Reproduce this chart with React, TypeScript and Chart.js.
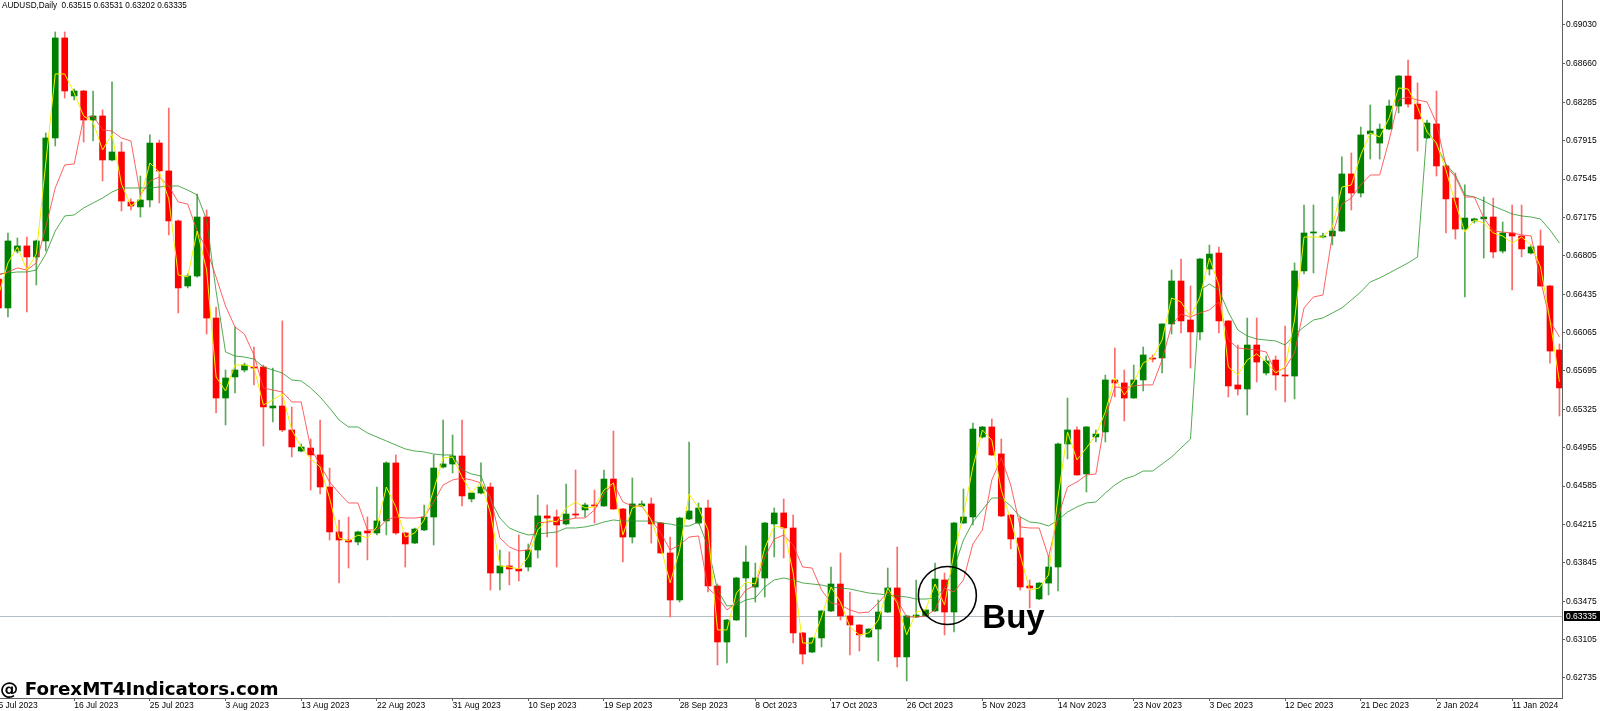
import React, { useEffect, useRef } from 'react';
import { Chart, registerables } from 'chart.js';

Chart.register(...registerables);

// ---- Data (AUDUSD, Daily) ----
const openP = [
  0.66581, 0.66302, 0.66851, 0.66900, 0.66794, 0.66948, 0.67941, 0.68905, 0.68346, 0.68394,
  0.68114, 0.68153, 0.67729, 0.67806, 0.67324, 0.67276, 0.67343, 0.67892, 0.67623, 0.67141,
  0.66514, 0.66610, 0.67179, 0.66205, 0.65434, 0.65637, 0.65704, 0.65733, 0.65733, 0.65338,
  0.65357, 0.65126, 0.64923, 0.64952, 0.64885, 0.64576, 0.64143, 0.64065, 0.64046, 0.64152,
  0.64133, 0.64249, 0.64808, 0.64133, 0.64036, 0.64162, 0.64287, 0.64769, 0.64798, 0.64875,
  0.64461, 0.64518, 0.64576, 0.63747, 0.63815, 0.63786, 0.63805, 0.63969, 0.64297, 0.64287,
  0.64220, 0.64316, 0.64355, 0.64403, 0.64393, 0.64653, 0.64364, 0.64094, 0.64393, 0.64413,
  0.64229, 0.63940, 0.63487, 0.64268, 0.64229, 0.64374, 0.63622, 0.63082, 0.63294, 0.63699,
  0.63612, 0.63699, 0.64220, 0.64326, 0.64181, 0.63169, 0.62985, 0.63121, 0.63381, 0.63641,
  0.63333, 0.63246, 0.63130, 0.63207, 0.63371, 0.63603, 0.62938, 0.63323, 0.63333, 0.63381,
  0.63680, 0.63371, 0.64229, 0.64287, 0.65058, 0.65155, 0.64895, 0.64306, 0.64085, 0.63622,
  0.63497, 0.63650, 0.63805, 0.64991, 0.65126, 0.64702, 0.65058, 0.65107, 0.65608, 0.65579,
  0.65434, 0.65608, 0.65820, 0.65820, 0.66148, 0.66562, 0.66186, 0.66071, 0.66678, 0.66832,
  0.66177, 0.65560, 0.65521, 0.65945, 0.65675, 0.65800, 0.65656, 0.65646, 0.66659, 0.67025,
  0.66986, 0.66996, 0.67044, 0.67594, 0.67410, 0.67980, 0.67892, 0.68027, 0.68249, 0.68538,
  0.68268, 0.67941, 0.68076, 0.67671, 0.67362, 0.67063, 0.67141, 0.67161, 0.67179, 0.66851,
  0.67025, 0.66996, 0.66832, 0.66900, 0.66514, 0.65897,
];

const highP = [
  0.66601, 0.67025, 0.66977, 0.66986, 0.66957, 0.67989, 0.68963, 0.68963, 0.68413, 0.68400,
  0.68394, 0.68211, 0.68481, 0.67902, 0.67353, 0.67574, 0.67970, 0.67921, 0.68230, 0.67150,
  0.66630, 0.67401, 0.67247, 0.66311, 0.65704, 0.66119, 0.65771, 0.65926, 0.65752, 0.65723,
  0.66177, 0.65348, 0.64991, 0.65039, 0.65222, 0.64759, 0.64258, 0.64287, 0.64150, 0.64287,
  0.64576, 0.64820, 0.64885, 0.64140, 0.64180, 0.64403, 0.64885, 0.65222, 0.65078, 0.65222,
  0.64525, 0.64808, 0.64615, 0.63969, 0.63950, 0.64114, 0.64027, 0.64499, 0.64403, 0.64355,
  0.64605, 0.64740, 0.64422, 0.64547, 0.64740, 0.65116, 0.64370, 0.64663, 0.64442, 0.64471,
  0.64235, 0.64094, 0.64285, 0.65010, 0.64422, 0.64451, 0.63641, 0.63300, 0.63705, 0.64008,
  0.63843, 0.64235, 0.64374, 0.64461, 0.64306, 0.63175, 0.63125, 0.63385, 0.63805, 0.63940,
  0.63564, 0.63250, 0.63210, 0.63487, 0.63795, 0.63998, 0.63340, 0.63680, 0.63395, 0.63843,
  0.63747, 0.64235, 0.64557, 0.65193, 0.65160, 0.65232, 0.65039, 0.64310, 0.64287, 0.63680,
  0.63655, 0.63911, 0.65000, 0.65434, 0.65155, 0.65160, 0.65126, 0.65656, 0.65916, 0.65704,
  0.65752, 0.65926, 0.65849, 0.66150, 0.66668, 0.66774, 0.66514, 0.66780, 0.66909, 0.66890,
  0.66180, 0.65945, 0.66205, 0.66205, 0.65839, 0.65839, 0.66128, 0.66736, 0.67295, 0.67295,
  0.67025, 0.67372, 0.67758, 0.67796, 0.68047, 0.68259, 0.68076, 0.68307, 0.68545, 0.68693,
  0.68471, 0.68114, 0.68394, 0.67680, 0.67603, 0.67488, 0.67169, 0.67372, 0.67362, 0.67131,
  0.67295, 0.67295, 0.66909, 0.67054, 0.66520, 0.65955,
];

const lowP = [
  0.66263, 0.66215, 0.66832, 0.66263, 0.66524, 0.66851, 0.67864, 0.68326, 0.68307, 0.67902,
  0.67912, 0.67526, 0.67720, 0.67237, 0.67247, 0.67179, 0.67276, 0.67314, 0.67006, 0.66254,
  0.66495, 0.66600, 0.66051, 0.65290, 0.65174, 0.65482, 0.65685, 0.65560, 0.64972, 0.65203,
  0.65110, 0.64866, 0.64915, 0.64547, 0.64509, 0.64065, 0.63651, 0.63795, 0.64017, 0.63873,
  0.64114, 0.64114, 0.64120, 0.63805, 0.64030, 0.64155, 0.64017, 0.64760, 0.64711, 0.64393,
  0.64432, 0.64510, 0.63583, 0.63583, 0.63632, 0.63670, 0.63767, 0.63892, 0.64094, 0.63805,
  0.64210, 0.64277, 0.64287, 0.64229, 0.64390, 0.64360, 0.63853, 0.64036, 0.64390, 0.64036,
  0.63935, 0.63323, 0.63467, 0.64260, 0.64220, 0.63564, 0.62860, 0.62879, 0.63290, 0.63130,
  0.63467, 0.63516, 0.63902, 0.63892, 0.63072, 0.62870, 0.62980, 0.63034, 0.63375, 0.63294,
  0.62957, 0.62995, 0.63125, 0.62899, 0.63365, 0.62841, 0.62706, 0.63320, 0.63330, 0.63375,
  0.63150, 0.63179, 0.64225, 0.64210, 0.65048, 0.64880, 0.64290, 0.63979, 0.63583, 0.63410,
  0.63490, 0.63535, 0.63574, 0.64846, 0.64690, 0.64528, 0.65010, 0.65010, 0.65444, 0.65213,
  0.65430, 0.65502, 0.65781, 0.65675, 0.66051, 0.66061, 0.65723, 0.65993, 0.66620, 0.66061,
  0.65444, 0.65463, 0.65270, 0.65589, 0.65656, 0.65511, 0.65396, 0.65425, 0.66630, 0.66639,
  0.66977, 0.66909, 0.67040, 0.67247, 0.67372, 0.67738, 0.67738, 0.68020, 0.68182, 0.68239,
  0.67815, 0.67935, 0.67574, 0.67025, 0.66967, 0.66408, 0.67121, 0.66784, 0.66784, 0.66832,
  0.66475, 0.66794, 0.66822, 0.66510, 0.65771, 0.65261,
];

const closeP = [
  0.66302, 0.66948, 0.66900, 0.66794, 0.66948, 0.67941, 0.68905, 0.68394, 0.68394, 0.68114,
  0.68153, 0.67729, 0.67806, 0.67333, 0.67285, 0.67343, 0.67892, 0.67623, 0.67141, 0.66495,
  0.66610, 0.67179, 0.66205, 0.65434, 0.65627, 0.65704, 0.65752, 0.65723, 0.65348, 0.65357,
  0.65126, 0.64962, 0.64962, 0.64885, 0.64576, 0.64143, 0.64065, 0.64046, 0.64143, 0.64133,
  0.64249, 0.64808, 0.64133, 0.64027, 0.64171, 0.64287, 0.64759, 0.64798, 0.64875, 0.64490,
  0.64518, 0.64576, 0.63747, 0.63815, 0.63786, 0.63767, 0.63969, 0.64297, 0.64277, 0.64210,
  0.64316, 0.64306, 0.64403, 0.64393, 0.64653, 0.64364, 0.64094, 0.64413, 0.64413, 0.64220,
  0.63940, 0.63487, 0.64277, 0.64345, 0.64374, 0.63622, 0.63082, 0.63294, 0.63699, 0.63853,
  0.63699, 0.64229, 0.64326, 0.64181, 0.63169, 0.62966, 0.63121, 0.63381, 0.63641, 0.63333,
  0.63246, 0.63150, 0.63207, 0.63371, 0.63603, 0.62938, 0.63333, 0.63342, 0.63391, 0.63689,
  0.63371, 0.64229, 0.64287, 0.65135, 0.65155, 0.64885, 0.64297, 0.64075, 0.63612, 0.63603,
  0.63650, 0.63805, 0.64991, 0.65126, 0.64692, 0.65155, 0.65087, 0.65608, 0.65579, 0.65434,
  0.65608, 0.65849, 0.65810, 0.66148, 0.66562, 0.66177, 0.66071, 0.66774, 0.66822, 0.66177,
  0.65550, 0.65521, 0.65945, 0.65781, 0.65791, 0.65656, 0.65646, 0.66659, 0.67025, 0.67035,
  0.66996, 0.67044, 0.67594, 0.67410, 0.67970, 0.68008, 0.68027, 0.68249, 0.68538, 0.68268,
  0.68124, 0.68085, 0.67671, 0.67353, 0.67063, 0.67169, 0.67161, 0.67179, 0.66842, 0.67025,
  0.66996, 0.66871, 0.66890, 0.66514, 0.65887, 0.65531,
];

// Yellow (fast) moving average
const maFast = [
  0.66427, 0.66736, 0.66890, 0.66668, 0.66822, 0.67700, 0.68558, 0.68558, 0.68374, 0.68153,
  0.68095, 0.67825, 0.67979, 0.67497, 0.67285, 0.67353, 0.67700, 0.67613, 0.67353, 0.66620,
  0.66601, 0.67044, 0.66668, 0.65637, 0.65502, 0.65752, 0.65752, 0.65733, 0.65367, 0.65415,
  0.65473, 0.65126, 0.64962, 0.64846, 0.64769, 0.64470, 0.64085, 0.64056, 0.64113, 0.64085,
  0.64191, 0.64576, 0.64384, 0.64094, 0.64133, 0.64258, 0.64547, 0.64856, 0.64865, 0.64673,
  0.64518, 0.64625, 0.64326, 0.63815, 0.63805, 0.63786, 0.63902, 0.64162, 0.64258, 0.64239,
  0.64374, 0.64432, 0.64374, 0.64384, 0.64547, 0.64615, 0.64113, 0.64374, 0.64403, 0.64258,
  0.63998, 0.63651, 0.63969, 0.64509, 0.64374, 0.64162, 0.63198, 0.63198, 0.63554, 0.63660,
  0.63641, 0.63988, 0.64200, 0.64181, 0.63747, 0.63072, 0.63072, 0.63323, 0.63612, 0.63467,
  0.63227, 0.63150, 0.63169, 0.63294, 0.63602, 0.63458, 0.63150, 0.63371, 0.63391, 0.63641,
  0.63439, 0.63940, 0.64306, 0.64769, 0.65126, 0.65029, 0.64547, 0.64258, 0.63921, 0.63583,
  0.63602, 0.63728, 0.64480, 0.65107, 0.64837, 0.64952, 0.65078, 0.65300, 0.65627, 0.65463,
  0.65589, 0.65772, 0.65820, 0.65993, 0.66398, 0.66360, 0.66215, 0.66408, 0.66784, 0.66524,
  0.65733, 0.65656, 0.65801, 0.65859, 0.65781, 0.65675, 0.65733, 0.66186, 0.66986, 0.66986,
  0.66986, 0.67083, 0.67468, 0.67488, 0.67777, 0.67989, 0.67950, 0.68134, 0.68423, 0.68413,
  0.68239, 0.67998, 0.67892, 0.67632, 0.67314, 0.67034, 0.67150, 0.67121, 0.67025, 0.66996,
  0.66928, 0.66986, 0.66909, 0.66697, 0.66186, 0.65589,
];

// Red (medium) moving average
const maMid = [
  0.66620, 0.66649, 0.66688, 0.66668, 0.66736, 0.67083, 0.67459, 0.67681, 0.67690, 0.68134,
  0.68153, 0.68018, 0.68008, 0.67941, 0.67912, 0.67391, 0.67526, 0.67565, 0.67478, 0.67324,
  0.67304, 0.67044, 0.66870, 0.66601, 0.66321, 0.66119, 0.66051, 0.65849, 0.65531, 0.65511,
  0.65492, 0.65396, 0.65396, 0.64952, 0.64788, 0.64625, 0.64518, 0.64422, 0.64422, 0.64162,
  0.64162, 0.64258, 0.64287, 0.64277, 0.64277, 0.64287, 0.64432, 0.64595, 0.64644, 0.64663,
  0.64644, 0.64615, 0.64480, 0.64085, 0.63998, 0.63959, 0.63969, 0.64229, 0.64239, 0.64248,
  0.64258, 0.64277, 0.64277, 0.64355, 0.64509, 0.64615, 0.64432, 0.64393, 0.64393, 0.64258,
  0.64133, 0.63969, 0.64017, 0.64094, 0.64104, 0.63602, 0.63516, 0.63391, 0.63458, 0.63583,
  0.63631, 0.63901, 0.64075, 0.64113, 0.64017, 0.63805, 0.63795, 0.63583, 0.63458, 0.63439,
  0.63391, 0.63362, 0.63371, 0.63458, 0.63564, 0.63487, 0.63323, 0.63323, 0.63333, 0.63391,
  0.63602, 0.63564, 0.63680, 0.64027, 0.64162, 0.64644, 0.64856, 0.64595, 0.64191, 0.64181,
  0.64181, 0.63902, 0.64287, 0.64576, 0.64625, 0.64692, 0.64702, 0.65242, 0.65540, 0.65531,
  0.65550, 0.65560, 0.65560, 0.65801, 0.66138, 0.66244, 0.66215, 0.66254, 0.66283, 0.66360,
  0.65993, 0.65916, 0.65907, 0.65897, 0.65878, 0.65685, 0.65724, 0.65868, 0.66302, 0.66408,
  0.66427, 0.67006, 0.67304, 0.67362, 0.67488, 0.67584, 0.67584, 0.67921, 0.68307, 0.68336,
  0.68307, 0.68288, 0.68085, 0.67671, 0.67565, 0.67372, 0.67372, 0.67170, 0.67044, 0.67034,
  0.67025, 0.67006, 0.66996, 0.66572, 0.66177, 0.66022,
];

// Green (slow) moving average
const maSlow = [
  0.66629, 0.66639, 0.66649, 0.66649, 0.66668, 0.66822, 0.67044, 0.67189, 0.67199, 0.67266,
  0.67314, 0.67362, 0.67420, 0.67459, 0.67459, 0.67459, 0.67459, 0.67468, 0.67478, 0.67478,
  0.67439, 0.67391, 0.67150, 0.66465, 0.65878, 0.65839, 0.65829, 0.65810, 0.65733, 0.65704,
  0.65675, 0.65608, 0.65598, 0.65531, 0.65444, 0.65338, 0.65222, 0.65155, 0.65155, 0.65097,
  0.65058, 0.65020, 0.64981, 0.64943, 0.64923, 0.64914, 0.64894, 0.64885, 0.64885, 0.64740,
  0.64702, 0.64682, 0.64451, 0.64277, 0.64181, 0.64142, 0.64113, 0.64123, 0.64133, 0.64142,
  0.64181, 0.64181, 0.64191, 0.64210, 0.64239, 0.64258, 0.64248, 0.64248, 0.64248, 0.64248,
  0.64229, 0.64219, 0.64200, 0.64200, 0.64239, 0.63998, 0.63583, 0.63429, 0.63439, 0.63487,
  0.63506, 0.63612, 0.63680, 0.63699, 0.63680, 0.63651, 0.63641, 0.63631, 0.63612, 0.63602,
  0.63593, 0.63573, 0.63554, 0.63545, 0.63535, 0.63525, 0.63516, 0.63496, 0.63496, 0.63506,
  0.63602, 0.63795, 0.64065, 0.64239, 0.64355, 0.64470, 0.64470, 0.64393, 0.64287, 0.64239,
  0.64229, 0.64200, 0.64258, 0.64335, 0.64384, 0.64422, 0.64432, 0.64518, 0.64595, 0.64653,
  0.64682, 0.64730, 0.64730, 0.64798, 0.64865, 0.64952, 0.65039, 0.66475, 0.66533, 0.66475,
  0.66263, 0.66090, 0.66032, 0.66003, 0.65993, 0.65984, 0.65945, 0.66042, 0.66119, 0.66186,
  0.66206, 0.66254, 0.66302, 0.66379, 0.66456, 0.66553, 0.66591, 0.66639, 0.66688, 0.66736,
  0.66794, 0.68018, 0.67873, 0.67690, 0.67584, 0.67391, 0.67372, 0.67333, 0.67285, 0.67247,
  0.67208, 0.67189, 0.67179, 0.67160, 0.67054, 0.66928,
];

const yTickValues = [
  0.6903, 0.6866, 0.68285, 0.67915, 0.67545, 0.67175, 0.66805, 0.66435, 0.66065,
  0.65695, 0.65325, 0.64955, 0.64585, 0.64215, 0.63845, 0.63475, 0.63105, 0.62735,
];

const xTickLabels = [
  '5 Jul 2023', '16 Jul 2023', '25 Jul 2023', '3 Aug 2023', '13 Aug 2023', '22 Aug 2023',
  '31 Aug 2023', '10 Sep 2023', '19 Sep 2023', '28 Sep 2023', '8 Oct 2023', '17 Oct 2023',
  '26 Oct 2023', '5 Nov 2023', '14 Nov 2023', '23 Nov 2023', '3 Dec 2023', '12 Dec 2023',
  '21 Dec 2023', '2 Jan 2024', '11 Jan 2024',
];
const xTickEvery = 8;

const lastPrice = 0.63335;
const titleText = 'AUDUSD,Daily  0.63515 0.63531 0.63202 0.63335';
const watermarkText = '@ ForexMT4Indicators.com';
const buyText = 'Buy';
const buyBar = 100.3;
const buyPrice = 0.6353;

const FONT = '"Liberation Sans", Arial, sans-serif';
const WM_FONT = '"DejaVu Sans", Verdana, sans-serif';

const overlayPlugin = {
  id: 'mt4Overlay',
  beforeDatasetsDraw(chart: any) {
    const { ctx, chartArea, scales } = chart;
    const py = Math.round(scales.y.getPixelForValue(lastPrice)) + 0.5;
    ctx.save();
    ctx.strokeStyle = '#b4bcc4';
    ctx.lineWidth = 1;
    ctx.beginPath();
    ctx.moveTo(chartArea.left, py);
    ctx.lineTo(chartArea.right, py);
    ctx.stroke();
    ctx.restore();
  },
  afterDraw(chart: any) {
    const { ctx, chartArea, scales } = chart;
    const x = scales.x;
    const y = scales.y;
    ctx.save();
    // current price label on the axis
    const py = Math.round(y.getPixelForValue(lastPrice));
    ctx.fillStyle = '#000';
    ctx.fillRect(chartArea.right + 2, py - 5, chart.width - chartArea.right - 2, 10);
    ctx.fillStyle = '#fff';
    ctx.font = `8.5px ${FONT}`;
    ctx.textAlign = 'left';
    ctx.textBaseline = 'middle';
    ctx.fillText(lastPrice.toFixed(5), chartArea.right + 4, py + 0.5);
    // title
    ctx.fillStyle = '#000';
    ctx.textBaseline = 'top';
    ctx.font = `8.2px ${FONT}`;
    ctx.fillText(titleText, 2, 2);
    // buy signal circle + text
    const cx = x.getPixelForValue(buyBar);
    const cy = y.getPixelForValue(buyPrice);
    ctx.strokeStyle = '#000';
    ctx.lineWidth = 1.6;
    ctx.beginPath();
    ctx.arc(cx, cy, 29, 0, Math.PI * 2);
    ctx.stroke();
    ctx.fillStyle = '#000';
    ctx.font = `bold 33px ${FONT}`;
    ctx.textBaseline = 'alphabetic';
    ctx.fillText(buyText, cx + 35, cy + 32);
    // watermark
    ctx.font = `bold 18.3px ${WM_FONT}`;
    ctx.fillText(watermarkText, 0, 695);
    ctx.restore();
  },
};

export default function App() {
  const canvasRef = useRef<HTMLCanvasElement | null>(null);

  useEffect(() => {
    const canvas = canvasRef.current;
    if (!canvas) return;
    const bull = (i: number) => closeP[i] >= openP[i];
    const bodyColors = openP.map((_, i) => (bull(i) ? '#008000' : '#ff0000'));
    const wickColors = openP.map((_, i) => (bull(i) ? '#5aa85a' : '#ff6a6a'));
    const toPts = (arr: number[]) => arr.map((v, i) => ({ x: i, y: v }));

    const chart = new Chart(canvas, {
      type: 'bar',
      data: {
        datasets: [
          {
            type: 'line',
            label: 'MA fast',
            data: toPts(maFast),
            borderColor: '#f2f200',
            borderWidth: 1,
            pointRadius: 0,
            tension: 0,
            order: 0,
          } as any,
          {
            type: 'line',
            label: 'MA mid',
            data: toPts(maMid),
            borderColor: 'rgba(255,70,70,0.85)',
            borderWidth: 1,
            pointRadius: 0,
            tension: 0,
            order: 1,
          } as any,
          {
            type: 'line',
            label: 'MA slow',
            data: toPts(maSlow),
            borderColor: 'rgba(40,150,40,0.8)',
            borderWidth: 1,
            pointRadius: 0,
            tension: 0,
            order: 2,
          } as any,
          {
            type: 'bar',
            label: 'body',
            data: openP.map((o, i) => ({ x: i, y: [o, closeP[i]] })),
            backgroundColor: bodyColors,
            borderWidth: 0,
            barThickness: 6,
            grouped: false,
            minBarLength: 1,
            order: 3,
          } as any,
          {
            type: 'bar',
            label: 'wick',
            data: lowP.map((l, i) => ({ x: i, y: [l, highP[i]] })),
            backgroundColor: wickColors,
            borderWidth: 0,
            barThickness: 1,
            grouped: false,
            order: 4,
          } as any,
        ],
      },
      options: {
        responsive: false,
        animation: false,
        events: [],
        layout: { padding: 0 },
        plugins: {
          legend: { display: false },
          tooltip: { enabled: false },
        },
        scales: {
          x: {
            type: 'linear',
            position: 'bottom',
            min: 0.16,
            max: 165.27,
            offset: false,
            grid: {
              offset: false,
              drawOnChartArea: false,
              drawTicks: true,
              tickLength: 3,
              color: '#606060',
            },
            border: { display: true, color: '#606060', width: 1 },
            ticks: {
              autoSkip: false,
              maxRotation: 0,
              minRotation: 0,
              align: 'start',
              padding: 0,
              color: '#000',
              font: { size: 8.5, family: FONT },
              callback: (_v: any, idx: number) => xTickLabels[idx],
            },
            afterBuildTicks: (s: any) => {
              s.ticks = xTickLabels.map((_, k) => ({ value: k * xTickEvery }));
            },
            afterFit: (s: any) => {
              s.height = 13;
              s.paddingLeft = 0;
              s.paddingRight = 0;
            },
          },
          y: {
            type: 'linear',
            position: 'right',
            min: 0.62542,
            max: 0.69271,
            grid: {
              drawOnChartArea: false,
              drawTicks: true,
              tickLength: 3,
              color: '#606060',
            },
            border: { display: true, color: '#606060', width: 1 },
            ticks: {
              autoSkip: false,
              padding: 1,
              color: '#000',
              font: { size: 8.5, family: FONT },
              callback: (v: any) => Number(v).toFixed(5),
            },
            afterBuildTicks: (s: any) => {
              s.ticks = yTickValues.map((v) => ({ value: v }));
            },
            afterFit: (s: any) => {
              s.width = 38;
              s.paddingTop = 0;
              s.paddingBottom = 0;
            },
          },
        },
      } as any,
      plugins: [overlayPlugin],
    });

    return () => {
      chart.destroy();
    };
  }, []);

  return (
    <div style={{ position: 'fixed', left: 0, top: 0, width: 1600, height: 711, background: '#fff' }}>
      <canvas ref={canvasRef} width={1600} height={711} style={{ display: 'block' }} />
    </div>
  );
}
